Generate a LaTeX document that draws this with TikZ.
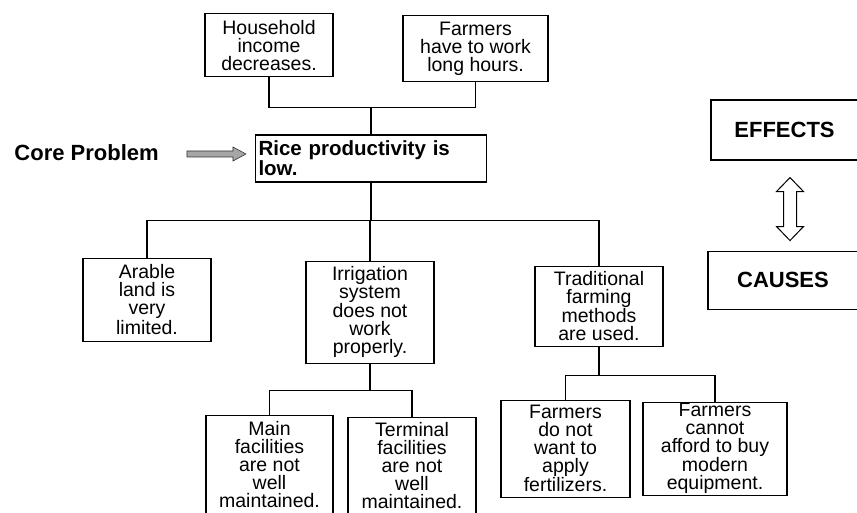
\documentclass[tikz,border=0pt]{standalone}
\usepackage{fontspec}
\setmainfont{Liberation Sans}
\usetikzlibrary{positioning}

\newcommand\cellfont{\fontsize{19.5}{18}\selectfont}
\newcommand\corefont{\fontsize{20.5}{16}\selectfont\bfseries}
\newcommand\tagfont{\fontsize{22}{24}\selectfont\bfseries}

\begin{document}
\begin{tikzpicture}[x=1pt, y=-1pt,
        box/.style={draw, line width=1.1pt, inner sep=0pt, align=center, font=\cellfont},
        corebox/.style={draw, line width=1.1pt, inner xsep=3pt, inner ysep=0pt, text width=225pt, align=left, minimum height=47pt, font=\corefont},
        tagbox/.style={draw, line width=1.1pt, inner sep=0pt, font=\tagfont},
        link/.style={line width=1.1pt},
        bigarrow/.style={draw=black!80, line width=0.6pt, fill=gray!70},
        openarrow/.style={draw, line width=1pt, fill=white}]

        \useasboundingbox (0,0) rectangle (857,513);

        % Core problem
        \node[corebox] (core) at (371,158.5) {Rice productivity is\\low.};
        \node[font=\tagfont, inner sep=0pt, left=96pt of core, yshift=5.5pt] (problem-label) {Core Problem};

        % Effects (top)
        \node[box, minimum width=128pt, minimum height=63pt, above=57pt of core, xshift=-102pt] (hh) {Household\\income\\decreases.};
        \node[box, minimum width=145pt, minimum height=66pt, above=52pt of core, xshift=104.5pt] (long) {Farmers\\have to work\\long hours.};

        % Causes (first level)
        \node[box, minimum width=128pt, minimum height=83pt, below=75pt of core, xshift=-224pt] (arable) {Arable\\land is\\very\\limited.};
        \node[box, minimum width=128pt, minimum height=102pt, below=78pt of core, xshift=-1pt] (irr) {Irrigation\\system\\does not\\work\\properly.};
        \node[box, minimum width=128pt, minimum height=80pt, below=83pt of core, xshift=228pt] (trad) {Traditional\\farming\\methods\\are used.};

        % Causes (second level)
        \node[box, minimum width=127pt, minimum height=99pt, below=51pt of irr, xshift=-100.5pt] (mainf) {Main\\facilities\\are not\\well\\maintained.};
        \node[box, minimum width=128pt, minimum height=97pt, below=53pt of irr, xshift=42pt] (term) {Terminal\\facilities\\are not\\well\\maintained.};
        \node[box, minimum width=129pt, minimum height=97pt, below=53pt of trad, xshift=-33.5pt] (nowant) {Farmers\\do not\\want to\\apply\\fertilizers.};
        \node[box, minimum width=144pt, minimum height=93pt, below=55pt of trad, xshift=116pt] (cannot) {Farmers\\cannot\\afford to buy\\modern\\equipment.};

        % Legend
        \node[tagbox, minimum width=147pt, minimum height=60pt] (effects) at (784.5,130) {EFFECTS};
        \node[tagbox, minimum width=150pt, minimum height=58pt, below=90pt of effects, xshift=-1.5pt] (causes) {CAUSES};

        % Joints
        \coordinate (top-join) at ([yshift=27pt]core.north);
        \coordinate (mid-join) at ([yshift=-38pt]core.south);
        \coordinate (irr-join) at ([yshift=-27pt]irr.south);
        \coordinate (trad-join) at ([yshift=-29pt]trad.south);

        % Connectors
        \draw[link] (hh.south) |- (top-join) -| (long.south);
        \draw[link] (top-join) -- (core.north);
        \draw[link] (core.south) -- (mid-join);
        \draw[link] (arable.north) |- (mid-join) -| (trad.north);
        \draw[link] (irr.north) -- (irr.north |- mid-join);
        \draw[link] (irr.south) -- (irr-join);
        \draw[link] (mainf.north) |- (irr-join) -| (term.north);
        \draw[link] (trad.south) -- (trad-join);
        \draw[link] (nowant.north) |- (trad-join) -| (cannot.north);

        % Arrow to the core problem
        \coordinate (arrow-start) at ([xshift=28pt, yshift=-1pt]problem-label.east);
        \draw[bigarrow] (arrow-start) ++(0,-3) -- ++(46,0) -- ++(0,-4) -- ++(13,7) -- ++(-13,7) -- ++(0,-4) -- ++(-46,0) -- cycle;

        % Effects <-> causes
        \coordinate (dbl-tip) at ([xshift=5.5pt, yshift=-17pt]effects.south);
        \draw[openarrow] (dbl-tip) -- ++(13.5,14) -- ++(-7,0) -- ++(0,35) -- ++(7,0) -- ++(-13.5,14)
            -- ++(-13.5,-14) -- ++(7,0) -- ++(0,-35) -- ++(-7,0) -- cycle;

    \end{tikzpicture}
\end{document}
